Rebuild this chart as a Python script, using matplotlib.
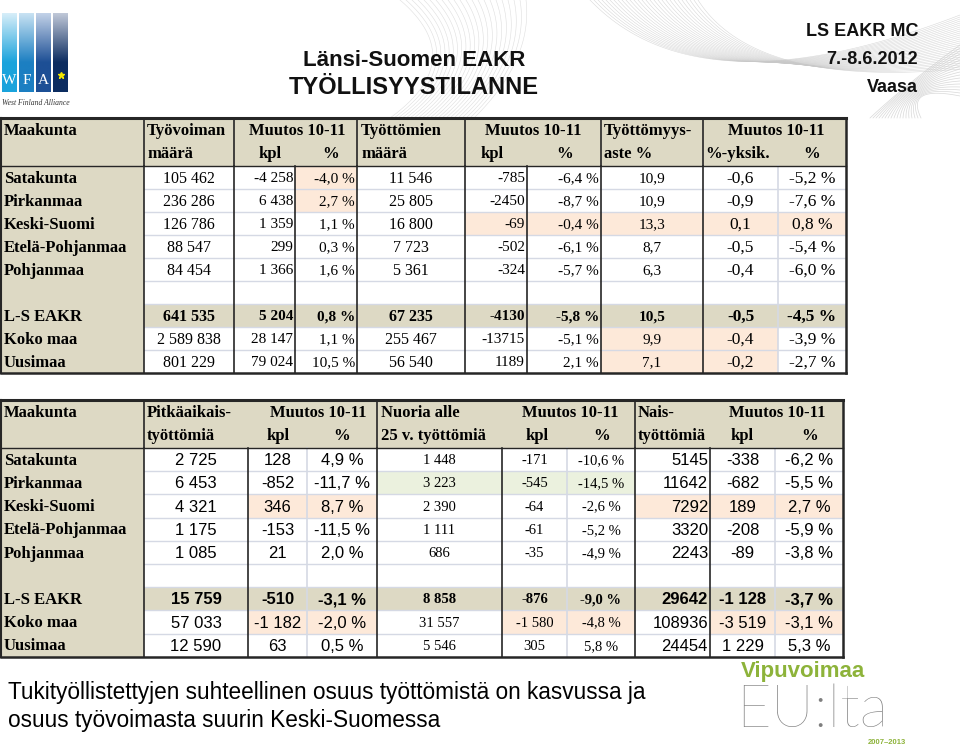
import numpy as np
import matplotlib
matplotlib.use('Agg')
from matplotlib import pyplot as plt
from matplotlib.patches import Rectangle

# ---- data: table 1 (työvoima / työttömät) ----
regions = ['Satakunta', 'Pirkanmaa', 'Keski-Suomi', 'Etelä-Pohjanmaa', 'Pohjanmaa',
           '', 'L-S EAKR', 'Koko maa', 'Uusimaa']
tyovoima = [105462, 236286, 126786, 88547, 84454, None, 641535, 2589838, 801229]
tyovoima_kpl = [-4258, 6438, 1359, 299, 1366, None, 5204, 28147, 79024]
tyovoima_pct = [-4.0, 2.7, 1.1, 0.3, 1.6, None, 0.8, 1.1, 10.5]
tyottomat = [11546, 25805, 16800, 7723, 5361, None, 67235, 255467, 56540]
tyottomat_kpl = [-785, -2450, -69, -502, -324, None, -4130, -13715, 1189]
tyottomat_pct = [-6.4, -8.7, -0.4, -6.1, -5.7, None, -5.8, -5.1, 2.1]
aste = [10.9, 10.9, 13.3, 8.7, 6.3, None, 10.5, 9.9, 7.1]
aste_yks = [-0.6, -0.9, 0.1, -0.5, -0.4, None, -0.5, -0.4, -0.2]
aste_pct = [-5.2, -7.6, 0.8, -5.4, -6.0, None, -4.5, -3.9, -2.7]

# ---- data: table 2 (pitkäaikais / nuoret / naiset) ----
pitka = [2725, 6453, 4321, 1175, 1085, None, 15759, 57033, 12590]
pitka_kpl = [128, -852, 346, -153, 21, None, -510, -1182, 63]
pitka_pct = [4.9, -11.7, 8.7, -11.5, 2.0, None, -3.1, -2.0, 0.5]
nuoria = [1448, 3223, 2390, 1111, 686, None, 8858, 31557, 5546]
nuoria_kpl = [-171, -545, -64, -61, -35, None, -876, -1580, 305]
nuoria_pct = [-10.6, -14.5, -2.6, -5.2, -4.9, None, -9.0, -4.8, 5.8]
nais = [5145, 11642, 7292, 3320, 2243, None, 29642, 108936, 24454]
nais_kpl = [-338, -682, 189, -208, -89, None, -1128, -3519, 1229]
nais_pct = [-6.2, -5.5, 2.7, -5.9, -3.8, None, -3.7, -3.1, 5.3]

# highlighted cells (row, column index in data columns 1..9)
peach1 = [(0, 3), (1, 3), (2, 5), (2, 6), (2, 7), (2, 8), (2, 9), (7, 7), (7, 8), (8, 7), (8, 8)]
peach2 = [(2, 2), (2, 3), (2, 7), (2, 8), (2, 9), (7, 2), (7, 3), (7, 5), (7, 6), (7, 8), (7, 9)]
green2 = [(1, 4), (1, 5), (1, 6)]

BEIGE = '#ddd9c4'
PEACH = '#fde9d9'
GREEN = '#ebf1de'
DARK = '#262626'
LIGHT = '#d5d9e4'
SERIF = ['Liberation Serif', 'DejaVu Serif']
SANS = ['Liberation Sans', 'DejaVu Sans']
NARROW = ['Liberation Sans Narrow', 'Liberation Sans', 'DejaVu Sans']


def f_int(v, sep=True):
    s = f'{abs(v):,}'.replace(',', ' ') if sep else str(abs(v))
    return ('-' if v < 0 else '') + s


def f_pct(v):
    return f'{v:.1f}'.replace('.', ',') + ' %'


def f_dec(v):
    return f'{v:.1f}'.replace('.', ',')


fig = plt.figure(figsize=(9.6, 7.51), dpi=100)
ax = fig.add_axes([0, 0, 1, 1])

# faint decorative ribbon in the slide background
t = np.linspace(0, 1, 80)
for i in range(28):
    p0, p1, p2 = np.array([590 + 4 * i, 0]), np.array([700 + 2 * i, 115 - i]), np.array([960, 15 + 2 * i])
    c = ((1 - t) ** 2)[:, None] * p0 + (2 * (1 - t) * t)[:, None] * p1 + (t ** 2)[:, None] * p2
    ax.plot(c[:, 0], c[:, 1], color='#c8c8c8', lw=0.4, alpha=0.7, zorder=0)
for i in range(22):
    p0, p1, p2 = np.array([400 + 6 * i, 0]), np.array([470 + 3 * i, 60]), np.array([390 + 4 * i, 118])
    c = ((1 - t) ** 2)[:, None] * p0 + (2 * (1 - t) * t)[:, None] * p1 + (t ** 2)[:, None] * p2
    ax.plot(c[:, 0], c[:, 1], color='#c8c8c8', lw=0.4, alpha=0.6, zorder=0)
for i in range(18):
    p0, p1, p2 = np.array([960, 45 + 3 * i]), np.array([905, 85]), np.array([870 + 3 * i, 118])
    c = ((1 - t) ** 2)[:, None] * p0 + (2 * (1 - t) * t)[:, None] * p1 + (t ** 2)[:, None] * p2
    ax.plot(c[:, 0], c[:, 1], color='#c8c8c8', lw=0.5, alpha=0.7, zorder=0)


def draw_table(top, head_h, row_h, edges, cols, head_lines, data_dark, data_light,
               peach, green, headers, head_fs):
    nrows = len(regions)
    data_top = top + head_h
    bottom = data_top + nrows * row_h
    left, right = edges[0], edges[-1]
    # backgrounds
    ax.add_patch(Rectangle((left, top), right - left, nrows * row_h + head_h, color='white', lw=0))
    ax.add_patch(Rectangle((left, top), right - left, head_h, color=BEIGE, lw=0))
    ax.add_patch(Rectangle((left, data_top), edges[1] - left, nrows * row_h, color=BEIGE, lw=0))
    lsr = regions.index('L-S EAKR')
    ax.add_patch(Rectangle((left, data_top + lsr * row_h), right - left, row_h, color=BEIGE, lw=0))
    for cells, c in ((peach, PEACH), (green, GREEN)):
        for r, k in cells:
            ax.add_patch(Rectangle((edges[k], data_top + r * row_h), edges[k + 1] - edges[k],
                                   row_h, color=c, lw=0))
    # light row lines
    for r in range(1, nrows):
        y = data_top + r * row_h
        ax.plot([edges[1], right], [y, y], color=LIGHT, lw=1)
    for x in data_light:
        ax.plot([x, x], [data_top, bottom], color=LIGHT, lw=1.2)
    for x in data_dark:
        ax.plot([x, x], [data_top, bottom], color=DARK, lw=1.2)
    for x in head_lines:
        ax.plot([x, x], [top, data_top], color=DARK, lw=1.2)
    # border
    ax.plot([left, right], [top, top], color=DARK, lw=2.2)
    ax.plot([left, right], [data_top, data_top], color=DARK, lw=1.0)
    ax.plot([left, right], [bottom, bottom], color=DARK, lw=1.8)
    ax.plot([left, left], [top, bottom], color=DARK, lw=1.5)
    ax.plot([right, right], [top, bottom], color=DARK, lw=1.8)
    # header texts
    for txt, x, row, ha in headers:
        y = top + (0.27 if row == 0 else 0.76) * head_h
        ax.text(x, y, txt, ha=ha, va='center', fontsize=head_fs, fontweight='bold',
                family=SERIF, color='black')
    # body
    for r, name in enumerate(regions):
        y = data_top + (r + 0.55) * row_h
        if name:
            ax.text(left + 3, y, name, ha='left', va='center', fontsize=head_fs,
                    fontweight='bold', family=SERIF)
        bold = 'bold' if name == 'L-S EAKR' else 'normal'
        for k, (vals, fmt, align, fam, fs) in enumerate(cols, start=1):
            v = vals[r]
            if v is None:
                continue
            x0, x1 = edges[k], edges[k + 1]
            if align == 'right':
                x, ha = x1 - 2, 'right'
            else:
                x, ha = (x0 + x1) / 2, 'center'
            ax.text(x, y, fmt(v), ha=ha, va='center', fontsize=fs, family=fam,
                    fontweight=bold, color='black')


# ---- table 1 ----
edges1 = [1, 144, 234, 295, 357, 465, 527, 601, 703, 778, 846]
nosep = lambda v: f_int(v, sep=False)
cols1 = [
    (tyovoima, f_int, 'center', SERIF, 11.5),
    (tyovoima_kpl, f_int, 'right', SERIF, 11),
    (tyovoima_pct, f_pct, 'right', SERIF, 11),
    (tyottomat, f_int, 'center', SERIF, 11.5),
    (tyottomat_kpl, nosep, 'right', SERIF, 11),
    (tyottomat_pct, f_pct, 'right', SERIF, 11),
    (aste, f_dec, 'center', SERIF, 11),
    (aste_yks, f_dec, 'center', SERIF, 12.5),
    (aste_pct, f_pct, 'center', SERIF, 12.5),
]
headers1 = [
    ('Maakunta', 4, 0, 'left'),
    ('Työvoiman', 147, 0, 'left'), ('määrä', 147, 1, 'left'),
    ('Muutos 10-11', 297, 0, 'center'), ('kpl', 270, 1, 'center'), ('%', 331, 1, 'center'),
    ('Työttömien', 361, 0, 'left'), ('määrä', 361, 1, 'left'),
    ('Muutos 10-11', 533, 0, 'center'), ('kpl', 492, 1, 'center'), ('%', 565, 1, 'center'),
    ('Työttömyys-', 604, 0, 'left'), ('aste %', 604, 1, 'left'),
    ('Muutos 10-11', 776, 0, 'center'), ('%-yksik.', 738, 1, 'center'), ('%', 812, 1, 'center'),
]
draw_table(118, 48, 23.0, edges1, cols1,
           head_lines=[144, 234, 357, 465, 601, 703],
           data_dark=[144, 234, 295, 357, 465, 527, 601, 703],
           data_light=[778],
           peach=peach1, green=[], headers=headers1, head_fs=12)

# ---- table 2 ----
edges2 = [1, 144, 248, 307, 377, 502, 567, 635, 710, 775, 843]
cols2 = [
    (pitka, f_int, 'center', SANS, 12),
    (pitka_kpl, f_int, 'center', SANS, 12),
    (pitka_pct, f_pct, 'center', SANS, 12),
    (nuoria, f_int, 'center', SERIF, 10.5),
    (nuoria_kpl, f_int, 'center', SERIF, 10.5),
    (nuoria_pct, f_pct, 'center', SERIF, 10.5),
    (nais, nosep, 'right', SANS, 12),
    (nais_kpl, f_int, 'center', SANS, 12),
    (nais_pct, f_pct, 'center', SANS, 12),
]
headers2 = [
    ('Maakunta', 4, 0, 'left'),
    ('Pitkäaikais-', 147, 0, 'left'), ('työttömiä', 147, 1, 'left'),
    ('Muutos 10-11', 318, 0, 'center'), ('kpl', 278, 1, 'center'), ('%', 342, 1, 'center'),
    ('Nuoria alle', 381, 0, 'left'), ('25 v. työttömiä', 381, 1, 'left'),
    ('Muutos 10-11', 570, 0, 'center'), ('kpl', 537, 1, 'center'), ('%', 602, 1, 'center'),
    ('Nais-', 638, 0, 'left'), ('työttömiä', 638, 1, 'left'),
    ('Muutos 10-11', 777, 0, 'center'), ('kpl', 742, 1, 'center'), ('%', 810, 1, 'center'),
]
draw_table(400, 48, 23.2, edges2, cols2,
           head_lines=[144, 377, 635],
           data_dark=[144, 248, 377, 502, 635, 710],
           data_light=[307, 567, 775],
           peach=peach2, green=green2, headers=headers2, head_fs=12)

# ---- titles ----
ax.text(414, 60, 'Länsi-Suomen EAKR', ha='center', va='center', fontsize=16,
        family=NARROW, fontweight='bold', color='#111111')
ax.text(414, 88, 'TYÖLLISYYSTILANNE', ha='center', va='center', fontsize=17,
        family=NARROW, fontweight='bold', color='#111111')
for txt, y in (('LS EAKR MC', 32), ('7.-8.6.2012', 60), ('Vaasa', 87)):
    ax.text(918, y, txt, ha='right', va='center', fontsize=13, family=NARROW,
            fontweight='bold', color='#111111')

# ---- WFA logo ----
bar_cols = [('#d7eef9', '#1aa3dc'), ('#c8e2f3', '#1c7fc2'),
            ('#c2d2e8', '#1d4f95'), ('#c0c8d8', '#0c2c60')]
for i, (c0, c1) in enumerate(bar_cols):
    x0 = 2 + i * 17
    a = np.array(matplotlib.colors.to_rgb(c0))
    b = np.array(matplotlib.colors.to_rgb(c1))
    g = np.clip(np.linspace(0, 1, 100)[:, None] * 1.6, 0, 1)
    grad = (a * (1 - g) + b * g)[:, None, :]
    ax.imshow(grad, extent=(x0, x0 + 15, 92, 13), origin='upper', aspect='auto', zorder=2)
for i, ch in enumerate('WFA'):
    ax.text(9.5 + i * 17, 80, ch, ha='center', va='center', fontsize=11, family=SERIF,
            color='white', zorder=3)
ax.plot(61, 75, marker='*', color='#f2e600', markersize=5, zorder=3)
ax.text(2, 103, 'West Finland Alliance', ha='left', va='center', fontsize=5.5,
        family=SERIF, style='italic', color='#333333')

# ---- bottom note ----
ax.text(8, 692, 'Tukityöllistettyjen suhteellinen osuus työttömistä on kasvussa ja',
        ha='left', va='center', fontsize=16.3, family=SANS, color='black')
ax.text(8, 720, 'osuus työvoimasta suurin Keski-Suomessa',
        ha='left', va='center', fontsize=16.3, family=SANS, color='black')

# ---- Vipuvoimaa EU:lta logo ----
ax.text(741, 672, 'Vipuvoimaa', ha='left', va='center', fontsize=16, family=NARROW,
        fontweight='bold', color='#8db33a')
ax.text(736, 727, 'EU:lta', ha='left', va='baseline', fontsize=43, family=['Lato', 'DejaVu Sans'],
        fontweight='light', color='#7f7f7f')
ax.text(906, 743, '2007–2013', ha='right', va='center', fontsize=5.5, family=SANS,
        fontweight='bold', color='#8db33a')

ax.set_xlim(0, 960)
ax.set_ylim(751, 0)
ax.axis('off')
plt.savefig('out.png', dpi=100)
